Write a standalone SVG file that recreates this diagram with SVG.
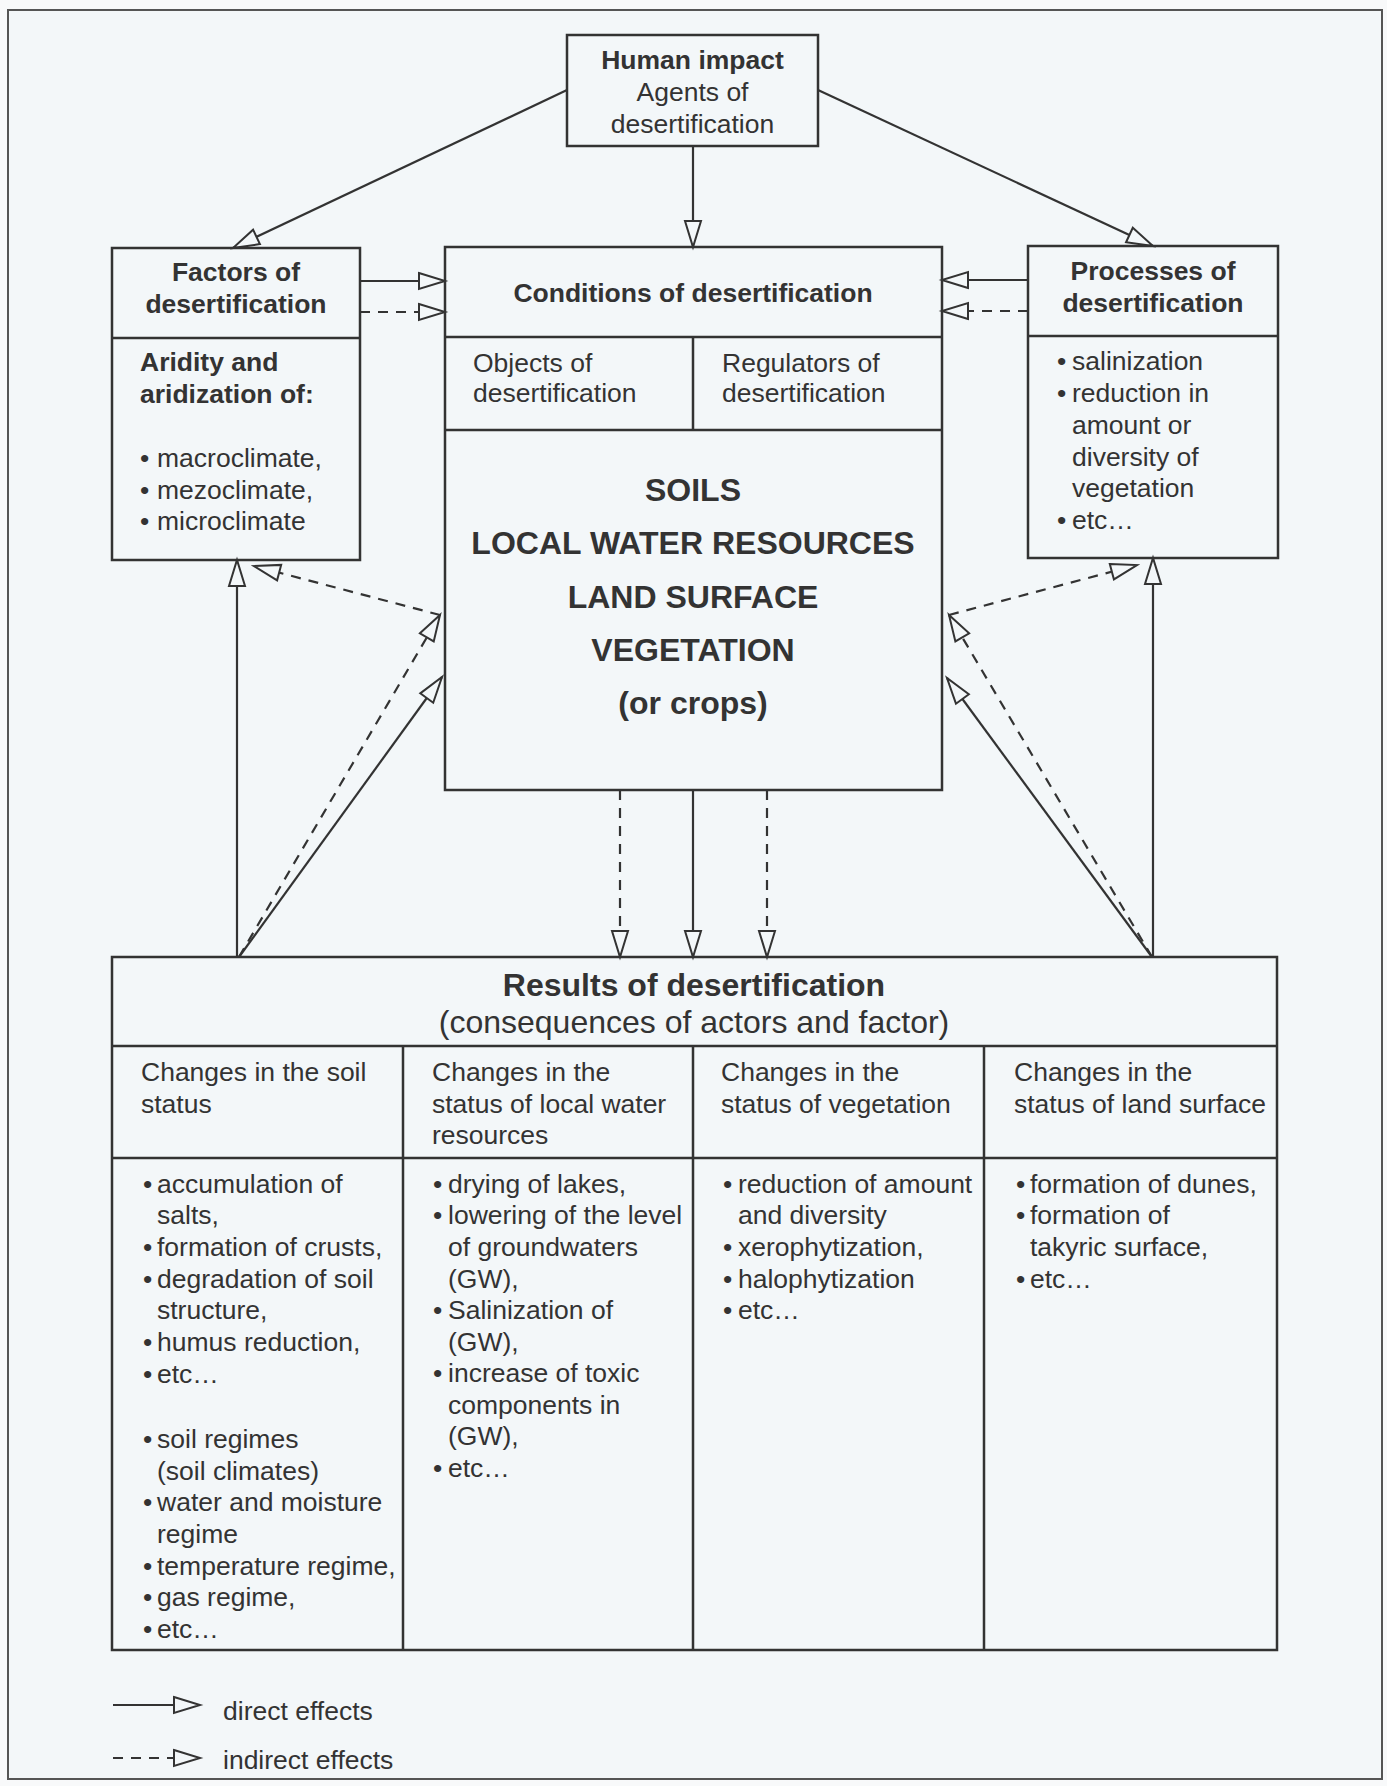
<svg xmlns="http://www.w3.org/2000/svg" width="1387" height="1786" viewBox="0 0 1387 1786">
<style>
.box{fill:none;stroke:#333;stroke-width:2.5}
.t{font-family:"Liberation Sans",Arial,Helvetica,sans-serif;fill:#333;font-size:26.5px}
.b{font-weight:bold}
.c{text-anchor:middle}
.big{font-size:32px}
.ln{stroke:#333;stroke-width:2.2;fill:none;marker-end:url(#ah)}
.dash{stroke-dasharray:10 8}
</style>
<defs>
<marker id="ah" markerUnits="userSpaceOnUse" markerWidth="30" markerHeight="20" refX="26" refY="8" orient="auto" overflow="visible">
<path d="M0,0 L26,8 L0,16 Z" fill="#f3f7f9" stroke="#333" stroke-width="2" stroke-dasharray="none"/>
</marker>
</defs>
<rect x="0" y="0" width="1387" height="1786" fill="#f8f9fa"/>
<rect x="8" y="10" width="1374" height="1769" fill="#f3f7f9" stroke="#555" stroke-width="2"/>

<g id="connectors">
<line class="ln" x1="567" y1="90" x2="233" y2="248"/>
<line class="ln" x1="693" y1="146" x2="693" y2="247"/>
<line class="ln" x1="818" y1="90" x2="1153" y2="246"/>
<line class="ln" x1="360" y1="281" x2="445" y2="281"/>
<line class="ln dash" x1="360" y1="312" x2="445" y2="312"/>
<line class="ln" x1="1028" y1="280" x2="942" y2="280"/>
<line class="ln dash" x1="1028" y1="311" x2="942" y2="311"/>
<line class="ln" x1="693" y1="790" x2="693" y2="957"/>
<line class="ln dash" x1="620" y1="790" x2="620" y2="957"/>
<line class="ln dash" x1="767" y1="790" x2="767" y2="957"/>
<line class="ln" x1="237" y1="957" x2="237" y2="560"/>
<line class="ln" x1="239" y1="957" x2="442" y2="677"/>
<line class="ln dash" x1="239" y1="957" x2="440" y2="615"/>
<line class="ln dash" x1="440" y1="615" x2="254" y2="566"/>
<line class="ln" x1="1153" y1="957" x2="1153" y2="558"/>
<line class="ln" x1="1152" y1="957" x2="947" y2="678"/>
<line class="ln dash" x1="1152" y1="957" x2="949" y2="615"/>
<line class="ln dash" x1="949" y1="615" x2="1137" y2="565"/>
</g>

<g id="human">
<rect class="box" x="567" y="35" width="251" height="111"/>
<text class="t b c" x="692.5" y="69">Human impact</text>
<text class="t c" x="692.5" y="101">Agents of</text>
<text class="t c" x="692.5" y="133">desertification</text>
</g>

<g id="factors">
<rect class="box" x="112" y="248" width="248" height="312"/>
<line class="box" x1="112" y1="338" x2="360" y2="338"/>
<text class="t b c" x="236" y="281">Factors of</text>
<text class="t b c" x="236" y="313">desertification</text>
<text class="t b" x="140" y="371">Aridity and</text>
<text class="t b" x="140" y="403">aridization of:</text>
<text class="t"><tspan x="140" y="467">•</tspan><tspan x="157" y="467">macroclimate,</tspan></text>
<text class="t"><tspan x="140" y="499">•</tspan><tspan x="157" y="499">mezoclimate,</tspan></text>
<text class="t"><tspan x="140" y="530">•</tspan><tspan x="157" y="530">microclimate</tspan></text>
</g>

<g id="conditions">
<rect class="box" x="445" y="247" width="497" height="543"/>
<line class="box" x1="445" y1="337" x2="942" y2="337"/>
<line class="box" x1="445" y1="430" x2="942" y2="430"/>
<line class="box" x1="693" y1="337" x2="693" y2="430"/>
<text class="t b c" x="693" y="302">Conditions of desertification</text>
<text class="t" x="473" y="372">Objects of</text>
<text class="t" x="473" y="402">desertification</text>
<text class="t" x="722" y="372">Regulators of</text>
<text class="t" x="722" y="402">desertification</text>
<text class="t b c big" x="693" y="501">SOILS</text>
<text class="t b c big" x="693" y="554">LOCAL WATER RESOURCES</text>
<text class="t b c big" x="693" y="608">LAND SURFACE</text>
<text class="t b c big" x="693" y="661">VEGETATION</text>
<text class="t b c big" x="693" y="714">(or crops)</text>
</g>

<g id="processes">
<rect class="box" x="1028" y="246" width="250" height="312"/>
<line class="box" x1="1028" y1="336" x2="1278" y2="336"/>
<text class="t b c" x="1153" y="280">Processes of</text>
<text class="t b c" x="1153" y="312">desertification</text>
<text class="t"><tspan x="1057" y="370">•</tspan><tspan x="1072" y="370">salinization</tspan></text>
<text class="t"><tspan x="1057" y="402">•</tspan><tspan x="1072" y="402">reduction in</tspan></text>
<text class="t" x="1072" y="434">amount or</text>
<text class="t" x="1072" y="466">diversity of</text>
<text class="t" x="1072" y="497">vegetation</text>
<text class="t"><tspan x="1057" y="529">•</tspan><tspan x="1072" y="529">etc…</tspan></text>
</g>

<g id="results">
<rect class="box" x="112" y="957" width="1165" height="693"/>
<line class="box" x1="112" y1="1046" x2="1277" y2="1046"/>
<line class="box" x1="112" y1="1158" x2="1277" y2="1158"/>
<line class="box" x1="403" y1="1046" x2="403" y2="1650"/>
<line class="box" x1="693" y1="1046" x2="693" y2="1650"/>
<line class="box" x1="984" y1="1046" x2="984" y2="1650"/>
<text class="t b c big" x="694" y="996">Results of desertification</text>
<text class="t c big" x="694" y="1033">(consequences of actors and factor)</text>

<text class="t" x="141" y="1081">Changes in the soil</text>
<text class="t" x="141" y="1113">status</text>
<text class="t" x="432" y="1081">Changes in the</text>
<text class="t" x="432" y="1113">status of local water</text>
<text class="t" x="432" y="1144">resources</text>
<text class="t" x="721" y="1081">Changes in the</text>
<text class="t" x="721" y="1113">status of vegetation</text>
<text class="t" x="1014" y="1081">Changes in the</text>
<text class="t" x="1014" y="1113">status of land surface</text>

<text class="t"><tspan x="143" y="1193">•</tspan><tspan x="157" y="1193">accumulation of</tspan></text>
<text class="t" x="157" y="1224">salts,</text>
<text class="t"><tspan x="143" y="1256">•</tspan><tspan x="157" y="1256">formation of crusts,</tspan></text>
<text class="t"><tspan x="143" y="1288">•</tspan><tspan x="157" y="1288">degradation of soil</tspan></text>
<text class="t" x="157" y="1319">structure,</text>
<text class="t"><tspan x="143" y="1351">•</tspan><tspan x="157" y="1351">humus reduction,</tspan></text>
<text class="t"><tspan x="143" y="1383">•</tspan><tspan x="157" y="1383">etc…</tspan></text>
<text class="t"><tspan x="143" y="1448">•</tspan><tspan x="157" y="1448">soil regimes</tspan></text>
<text class="t" x="157" y="1480">(soil climates)</text>
<text class="t"><tspan x="143" y="1511">•</tspan><tspan x="157" y="1511">water and moisture</tspan></text>
<text class="t" x="157" y="1543">regime</text>
<text class="t"><tspan x="143" y="1575">•</tspan><tspan x="157" y="1575">temperature regime,</tspan></text>
<text class="t"><tspan x="143" y="1606">•</tspan><tspan x="157" y="1606">gas regime,</tspan></text>
<text class="t"><tspan x="143" y="1638">•</tspan><tspan x="157" y="1638">etc…</tspan></text>

<text class="t"><tspan x="433" y="1193">•</tspan><tspan x="448" y="1193">drying of lakes,</tspan></text>
<text class="t"><tspan x="433" y="1224">•</tspan><tspan x="448" y="1224">lowering of the level</tspan></text>
<text class="t" x="448" y="1256">of groundwaters</text>
<text class="t" x="448" y="1288">(GW),</text>
<text class="t"><tspan x="433" y="1319">•</tspan><tspan x="448" y="1319">Salinization of</tspan></text>
<text class="t" x="448" y="1351">(GW),</text>
<text class="t"><tspan x="433" y="1382">•</tspan><tspan x="448" y="1382">increase of toxic</tspan></text>
<text class="t" x="448" y="1414">components in</text>
<text class="t" x="448" y="1445">(GW),</text>
<text class="t"><tspan x="433" y="1477">•</tspan><tspan x="448" y="1477">etc…</tspan></text>

<text class="t"><tspan x="723" y="1193">•</tspan><tspan x="738" y="1193">reduction of amount</tspan></text>
<text class="t" x="738" y="1224">and diversity</text>
<text class="t"><tspan x="723" y="1256">•</tspan><tspan x="738" y="1256">xerophytization,</tspan></text>
<text class="t"><tspan x="723" y="1288">•</tspan><tspan x="738" y="1288">halophytization</tspan></text>
<text class="t"><tspan x="723" y="1319">•</tspan><tspan x="738" y="1319">etc…</tspan></text>

<text class="t"><tspan x="1016" y="1193">•</tspan><tspan x="1030" y="1193">formation of dunes,</tspan></text>
<text class="t"><tspan x="1016" y="1224">•</tspan><tspan x="1030" y="1224">formation of</tspan></text>
<text class="t" x="1030" y="1256">takyric surface,</text>
<text class="t"><tspan x="1016" y="1288">•</tspan><tspan x="1030" y="1288">etc…</tspan></text>
</g>

<g id="legend">
<line class="ln" x1="113" y1="1705" x2="200" y2="1705"/>
<text class="t" x="223" y="1720">direct effects</text>
<line class="ln dash" x1="113" y1="1758" x2="200" y2="1758"/>
<text class="t" x="223" y="1769">indirect effects</text>
</g>
</svg>
